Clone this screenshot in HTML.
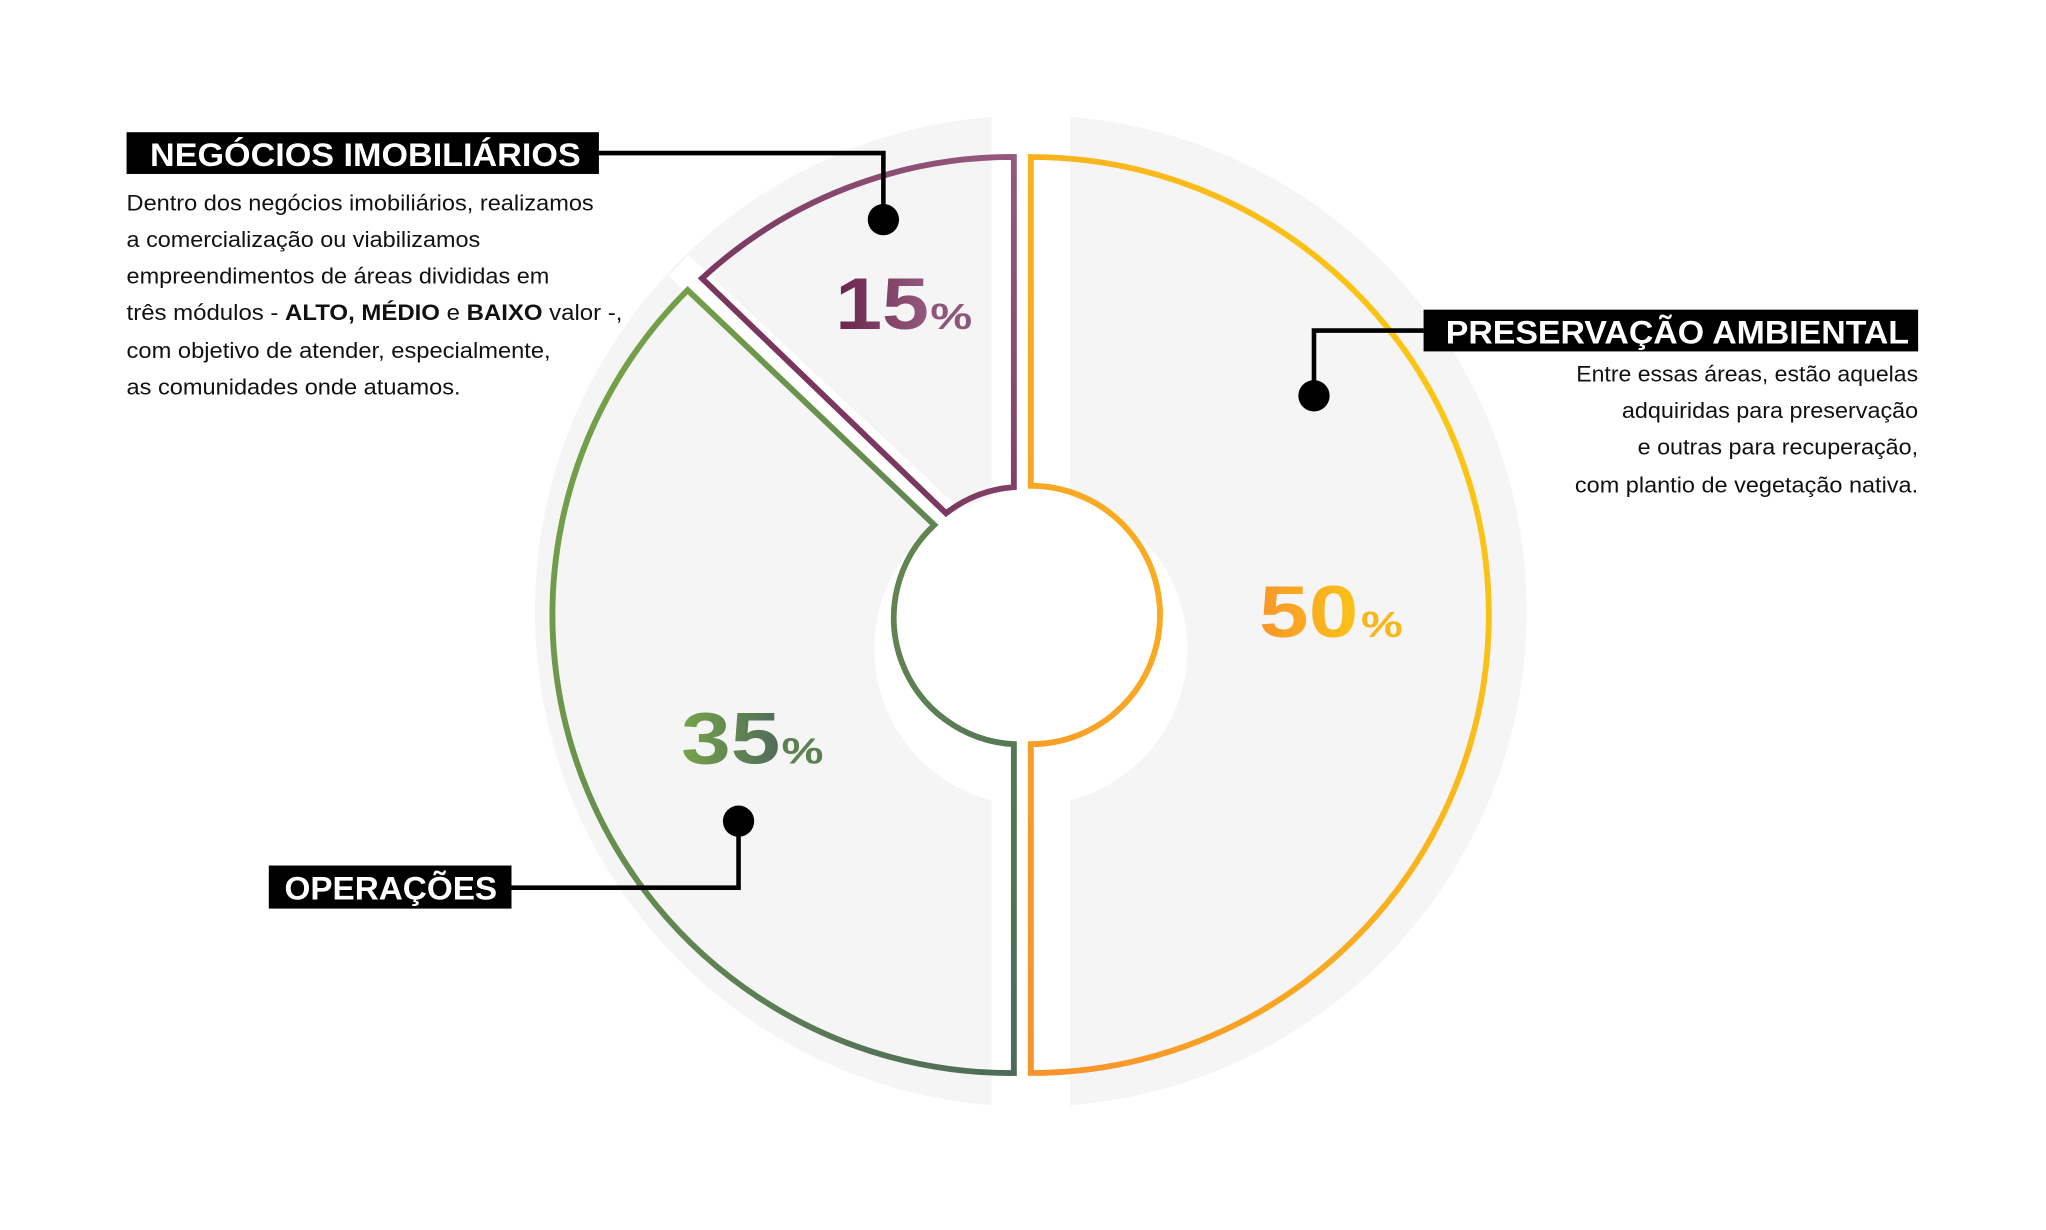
<!DOCTYPE html>
<html><head><meta charset="utf-8"><style>
html,body{margin:0;padding:0;background:#fff;width:2046px;height:1230px;overflow:hidden}
svg{display:block}
text{font-family:"Liberation Sans",sans-serif}
</style></head><body>
<svg width="2046" height="1230" viewBox="0 0 1568 942" xmlns="http://www.w3.org/2000/svg">
<defs>
<linearGradient id="gO" x1="0" y1="1" x2="1" y2="0"><stop offset="0" stop-color="#f7922d"/><stop offset="1" stop-color="#fbd10f"/></linearGradient>
<linearGradient id="gP" x1="0" y1="1" x2="1" y2="0"><stop offset="0" stop-color="#6a244c"/><stop offset="1" stop-color="#955a7e"/></linearGradient>
<linearGradient id="gG" x1="0" y1="0" x2="1" y2="1"><stop offset="0" stop-color="#78a845"/><stop offset="1" stop-color="#4e6a5a"/></linearGradient>
<linearGradient id="tO" x1="0" y1="0" x2="1" y2="0"><stop offset="0" stop-color="#f7962b"/><stop offset="1" stop-color="#fbc317"/></linearGradient>
<linearGradient id="tP" x1="0" y1="0" x2="1" y2="0"><stop offset="0" stop-color="#6a244c"/><stop offset="1" stop-color="#955a7e"/></linearGradient>
<linearGradient id="tG" x1="0" y1="0" x2="1" y2="0"><stop offset="0" stop-color="#76a44a"/><stop offset="1" stop-color="#4f6b5a"/></linearGradient>
<mask id="m"><rect width="1568" height="942" fill="#fff"/><circle cx="790" cy="497" r="120" fill="#000"/><rect x="760" y="0" width="60" height="942" fill="#000"/><line x1="520" y1="203" x2="725" y2="395" stroke="#000" stroke-width="22"/></mask>
</defs>
<circle cx="790" cy="468" r="380" fill="#f5f5f5" mask="url(#m)"/>
<path d="M790,120 A351,351 0 1 1 790,822 L790,570 A97,97 0 0 0 790,372 Z" fill="none" stroke="url(#gO)" stroke-width="4.5"/>
<path d="M777,120 L777,373 A97,97 0 0 0 725,393 L538,213 A351,351 0 0 1 777,120 Z" fill="none" stroke="url(#gP)" stroke-width="4.5"/>
<path d="M527,222 A351,351 0 0 0 777,822 L777,570 A97,97 0 0 1 716,402 Z" fill="none" stroke="url(#gG)" stroke-width="4.5"/>
<g font-weight="bold" lengthAdjust="spacingAndGlyphs">
<text x="640" y="252" font-size="56" fill="url(#tP)" textLength="72" lengthAdjust="spacingAndGlyphs">15</text><text x="713" y="252" font-size="28" fill="#8e5678" textLength="32" lengthAdjust="spacingAndGlyphs">%</text>
<text x="965" y="488" font-size="56" fill="url(#tO)" textLength="76" lengthAdjust="spacingAndGlyphs">50</text><text x="1043" y="488" font-size="28" fill="#f9b51c" textLength="32" lengthAdjust="spacingAndGlyphs">%</text>
<text x="522" y="585" font-size="56" fill="url(#tG)" textLength="76" lengthAdjust="spacingAndGlyphs">35</text><text x="599" y="585" font-size="28" fill="#5c8052" textLength="32" lengthAdjust="spacingAndGlyphs">%</text>
</g>
<g stroke="#000" stroke-width="3.5" fill="none"><polyline points="459,117 677,117 677,168"/><polyline points="1091,253 1007,253 1007,303"/><polyline points="392,680 566,680 566,629"/></g>
<circle cx="677" cy="168" r="12"/><circle cx="1007" cy="303" r="12"/><circle cx="566" cy="629" r="12"/>
<rect x="97" y="101" width="362" height="32"/><text x="115" y="127" fill="#fff" font-weight="bold" font-size="25" textLength="330" lengthAdjust="spacingAndGlyphs">NEGÓCIOS IMOBILIÁRIOS</text>
<rect x="1091" y="237" width="379" height="32"/><text x="1108" y="263" fill="#fff" font-weight="bold" font-size="25" textLength="355" lengthAdjust="spacingAndGlyphs">PRESERVAÇÃO AMBIENTAL</text>
<rect x="206" y="663" width="186" height="33"/><text x="218" y="689" fill="#fff" font-weight="bold" font-size="25" textLength="163" lengthAdjust="spacingAndGlyphs">OPERAÇÕES</text>
<g font-size="17" fill="#111">
<text x="97" y="161" textLength="358" lengthAdjust="spacingAndGlyphs">Dentro dos negócios imobiliários, realizamos</text>
<text x="97" y="189" textLength="271" lengthAdjust="spacingAndGlyphs">a comercialização ou viabilizamos</text>
<text x="97" y="217" textLength="324" lengthAdjust="spacingAndGlyphs">empreendimentos de áreas divididas em</text>
<text x="97" y="245" textLength="380" lengthAdjust="spacingAndGlyphs">três módulos - <tspan font-weight="bold">ALTO, MÉDIO</tspan> e <tspan font-weight="bold">BAIXO</tspan> valor -,</text>
<text x="97" y="274" textLength="325" lengthAdjust="spacingAndGlyphs">com objetivo de atender, especialmente,</text>
<text x="97" y="302" textLength="256" lengthAdjust="spacingAndGlyphs">as comunidades onde atuamos.</text>
<text x="1208" y="292" textLength="262" lengthAdjust="spacingAndGlyphs">Entre essas áreas, estão aquelas</text>
<text x="1243" y="320" textLength="227" lengthAdjust="spacingAndGlyphs">adquiridas para preservação</text>
<text x="1255" y="348" textLength="215" lengthAdjust="spacingAndGlyphs">e outras para recuperação,</text>
<text x="1207" y="377" textLength="263" lengthAdjust="spacingAndGlyphs">com plantio de vegetação nativa.</text>
</g>
</svg>
</body></html>
